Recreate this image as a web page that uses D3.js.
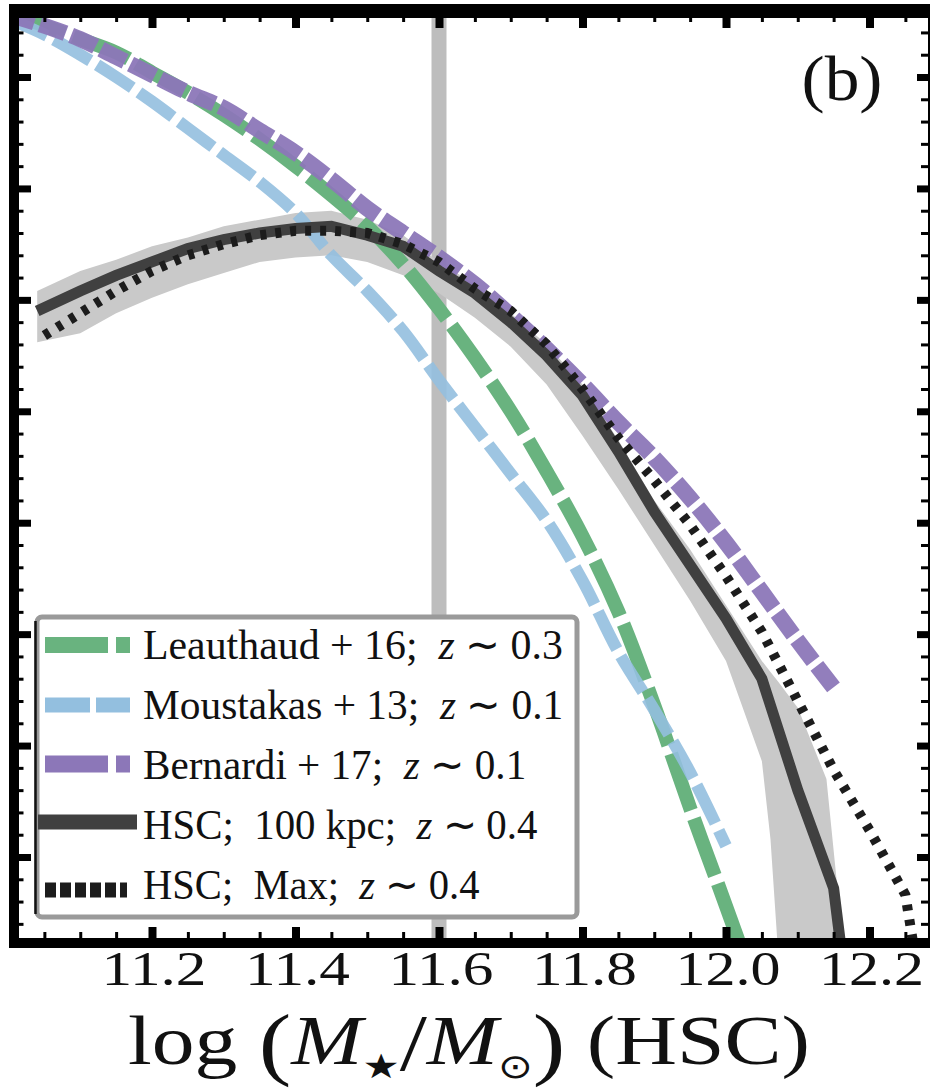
<!DOCTYPE html>
<html><head><meta charset="utf-8">
<script src="https://cdn.jsdelivr.net/npm/d3@7"></script>
<style>
html,body{margin:0;padding:0;background:#fff;}
svg{display:block;}
</style></head>
<body>
<svg id="chart" width="930" height="1089"></svg>
<script>
// ---------------- data ----------------
const leauthaudMass = [11.00,11.05,11.10,11.15,11.20,11.25,11.30,11.35,11.40,11.45,11.50,11.55,11.60,11.65,11.70,11.75,11.80,11.85,11.90,11.95,12.00,12.02];
const leauthaudPhi  = [-2.71,-2.77,-2.83,-2.89,-2.98,-3.07,-3.17,-3.28,-3.40,-3.53,-3.67,-3.84,-4.04,-4.26,-4.50,-4.77,-5.06,-5.40,-5.82,-6.28,-6.72,-6.90];

const moustakasMass = [11.00,11.05,11.10,11.15,11.20,11.25,11.30,11.35,11.40,11.45,11.50,11.55,11.60,11.65,11.70,11.75,11.80,11.85,11.90,11.95,12.00];
const moustakasPhi  = [-2.74,-2.81,-2.90,-3.00,-3.11,-3.23,-3.35,-3.47,-3.61,-3.80,-3.96,-4.14,-4.36,-4.57,-4.78,-4.99,-5.26,-5.58,-5.84,-6.12,-6.45];

const bernardiMass = [11.00,11.05,11.10,11.15,11.20,11.25,11.30,11.35,11.40,11.45,11.50,11.55,11.60,11.65,11.70,11.75,11.80,11.85,11.90,11.95,12.00,12.05,12.10,12.15];
const bernardiPhi  = [-2.72,-2.77,-2.83,-2.91,-2.99,-3.07,-3.14,-3.24,-3.34,-3.46,-3.59,-3.70,-3.81,-3.93,-4.07,-4.22,-4.38,-4.55,-4.71,-4.89,-5.09,-5.31,-5.53,-5.74];

const hsc100Mass = [11.04,11.10,11.15,11.20,11.25,11.30,11.35,11.40,11.45,11.50,11.55,11.60,11.65,11.70,11.75,11.80,11.85,11.90,11.95,12.00,12.05,12.10,12.15,12.16];
const hsc100Phi  = [-4.05,-3.96,-3.89,-3.83,-3.77,-3.73,-3.70,-3.68,-3.67,-3.71,-3.76,-3.87,-3.97,-4.10,-4.25,-4.43,-4.68,-4.95,-5.19,-5.43,-5.70,-6.20,-6.64,-6.90];

const hscMaxMass = [11.05,11.10,11.15,11.20,11.25,11.30,11.35,11.40,11.45,11.50,11.55,11.60,11.65,11.70,11.75,11.80,11.85,11.90,11.95,12.00,12.05,12.10,12.15,12.20,12.25,12.26];
const hscMaxPhi  = [-4.16,-4.06,-3.96,-3.87,-3.80,-3.75,-3.71,-3.69,-3.69,-3.70,-3.75,-3.83,-3.95,-4.05,-4.20,-4.40,-4.62,-4.81,-5.01,-5.24,-5.49,-5.80,-6.11,-6.38,-6.67,-6.87];

const bandMass = [11.04,11.10,11.15,11.20,11.25,11.30,11.35,11.40,11.45,11.50,11.55,11.60,11.65,11.70,11.75,11.80,11.85,11.90,11.95,12.00,12.05,12.062,12.072,12.10,12.14,12.165];
const bandHigh = [-3.96,-3.87,-3.82,-3.76,-3.72,-3.67,-3.64,-3.61,-3.60,-3.64,-3.71,-3.83,-3.93,-4.06,-4.20,-4.38,-4.63,-4.90,-5.12,-5.37,-5.62,-5.67,-5.71,-5.83,-6.15,-6.95];
const bandLow  = [-4.19,-4.15,-4.06,-3.99,-3.93,-3.88,-3.83,-3.81,-3.80,-3.83,-3.89,-3.97,-4.08,-4.21,-4.38,-4.61,-4.85,-5.10,-5.35,-5.62,-6.07,-6.42,-6.90,-7.50,-7.50,-7.50];

const cutMass = 11.6;

const xMajorTicks = [11.2,11.4,11.6,11.8,12.0,12.2];
const xTickLabels = ["11.2","11.4","11.6","11.8","12.0","12.2"];

const legendLabels = [
  ["Leauthaud + 16;\u2002", "z", " ∼ 0.3"],
  ["Moustakas + 13;\u2002", "z", " ∼ 0.1"],
  ["Bernardi + 17;\u2002", "z", " ∼ 0.1"],
  ["HSC;\u2002100 kpc;\u2002", "z", " ∼ 0.4"],
  ["HSC;\u2002Max;\u2002", "z", " ∼ 0.4"]
];
const panelLabel = "(b)";

// ---------------- layout ----------------
const SERIF = "Liberation Serif";
const svg = d3.select("#chart");
const P = {l:19, r:928, t:18, b:938};
const x = d3.scaleLinear().domain([11.0, 12.2]).range([8.5, 869.5]);
const y = d3.scaleLinear().domain([-6.5, -3.0]).range([857, 77]);

svg.append("defs").append("clipPath").attr("id","clip").append("rect")
  .attr("x",P.l).attr("y",P.t).attr("width",P.r-P.l).attr("height",P.b-P.t);

const g = svg.append("g").attr("clip-path","url(#clip)");

// vertical line
g.append("line").attr("x1",x(cutMass)).attr("x2",x(cutMass))
  .attr("y1",P.t).attr("y2",P.b).attr("stroke","#bdbdbd").attr("stroke-width",15);

// band
const area = d3.area().x(d=>x(d[0])).y0(d=>y(d[1])).y1(d=>y(d[2]));
g.append("path").datum(d3.zip(bandMass,bandLow,bandHigh)).attr("d",area).attr("fill","#c9c9c9");

const smooth = d3.line().x(d=>x(d[0])).y(d=>y(d[1])).curve(d3.curveCatmullRom);
const straight = d3.line().x(d=>x(d[0])).y(d=>y(d[1]));

function drawLine(gen, mass, phi, color, w, dash, op){
  g.append("path").datum(d3.zip(mass,phi)).attr("d",gen)
    .attr("fill","none").attr("stroke",color).attr("stroke-width",w)
    .attr("stroke-dasharray",dash).attr("stroke-linecap","butt")
    .attr("opacity",op||1);
}
drawLine(smooth, leauthaudMass, leauthaudPhi, "#69b37f", 14, "60,9");
drawLine(smooth, moustakasMass, moustakasPhi, "#93bfdf", 12, "42,8", 0.9);
drawLine(smooth, bernardiMass, bernardiPhi, "#8c77b8", 16, "27,6", 0.95);
drawLine(straight, hsc100Mass, hsc100Phi, "#404040", 11, null);
drawLine(straight, hscMaxMass, hscMaxPhi, "#1c1c1c", 10, "6,9");

// ---------------- ticks ----------------
const xMinor = d3.range(221,246).filter(i=>i%4!==0).map(i=>i/20);
const yMajor = d3.range(-65,-29,5).map(i=>i/10);
const yMinor = d3.range(-68,-27).filter(i=>i%5!==0).map(i=>i/10);

function ticks(axis, tr, w){
  const a = svg.append("g").attr("transform",tr).call(axis);
  a.select(".domain").remove();
  a.selectAll(".tick line").attr("stroke","#000").attr("stroke-width",w);
  a.selectAll(".tick text").remove();
}
ticks(d3.axisBottom(x).tickValues(xMajorTicks).tickSize(-11).tickFormat(""), `translate(0,${P.b})`, 8);
ticks(d3.axisBottom(x).tickValues(xMinor).tickSize(-6).tickFormat(""), `translate(0,${P.b})`, 3);
ticks(d3.axisTop(x).tickValues(xMajorTicks).tickSize(-10).tickFormat(""), `translate(0,${P.t})`, 8);
ticks(d3.axisTop(x).tickValues(xMinor).tickSize(-4).tickFormat(""), `translate(0,${P.t})`, 3);
ticks(d3.axisLeft(y).tickValues(yMajor).tickSize(-12).tickFormat(""), `translate(${P.l},0)`, 7);
ticks(d3.axisLeft(y).tickValues(yMinor).tickSize(-4.5).tickFormat(""), `translate(${P.l},0)`, 3);
ticks(d3.axisRight(y).tickValues(yMajor).tickSize(-11).tickFormat(""), `translate(${P.r},0)`, 7);
ticks(d3.axisRight(y).tickValues(yMinor).tickSize(-7).tickFormat(""), `translate(${P.r},0)`, 3);

// frame
svg.append("rect").attr("x",9).attr("y",4).attr("width",10).attr("height",944).attr("fill","#000");
svg.append("rect").attr("x",9).attr("y",4).attr("width",935).attr("height",14).attr("fill","#000");
svg.append("rect").attr("x",9).attr("y",938).attr("width",935).attr("height",10).attr("fill","#000");
svg.append("rect").attr("x",928).attr("y",4).attr("width",12).attr("height",944).attr("fill","#000");

// fit text width helper
function fit(gs, cx, cy, target){
  const w = gs.node().getBBox().width;
  gs.attr("transform", `translate(${cx},${cy}) scale(${target/w},1)`);
}
function mkText(parent, size, anchor){
  return parent.append("text").attr("font-family", SERIF).attr("font-size", size)
    .attr("text-anchor", anchor).attr("fill", "#111");
}

// tick labels
xMajorTicks.forEach((v,i)=>{
  const t = svg.append("g");
  mkText(t, 48, "middle").text(xTickLabels[i]);
  fit(t, x(v)+2, 985, 105);
});

// axis title
{
  const t = svg.append("g");
  const tx = mkText(t, 70, "middle");
  tx.append("tspan").text("log ");
  tx.append("tspan").attr("font-size",80).attr("dy",6).text("(");
  tx.append("tspan").attr("font-style","italic").attr("dy",-6).text("M");
  tx.append("tspan").attr("font-size",34).attr("font-family","DejaVu Sans").attr("dy",14).text("★");
  tx.append("tspan").attr("font-size",80).attr("dy",-8).text("/");
  tx.append("tspan").attr("font-style","italic").attr("dy",-6).text("M");
  tx.append("tspan").attr("font-size",34).attr("font-family","DejaVu Sans").attr("dy",14).text("⊙");
  tx.append("tspan").attr("font-size",80).attr("dy",-8).text(")");
  tx.append("tspan").attr("dy",-6).text(" (HSC)");
  fit(t, 469, 1064, 682);
}

// panel label
{
  const t = svg.append("g");
  mkText(t, 64, "middle").text(panelLabel);
  fit(t, 842, 100, 81);
}

// ---------------- legend ----------------
const lg = svg.append("g");
lg.append("rect").attr("x",37).attr("y",617).attr("width",540).attr("height",300).attr("rx",5)
  .attr("fill","#fff").attr("stroke","#9a9a9a").attr("stroke-width",5);
lg.append("line").attr("x1",35.5).attr("x2",35.5).attr("y1",621).attr("y2",914).attr("stroke","#111").attr("stroke-width",2.5);

const handleY = [645, 705, 764, 822, 890];
const textY = [659, 719, 779, 839, 899];
const textW = [420, 420, 383, 395, 337];
const handles = [
  {x1:45,x2:130,c:"#69b37f",w:16,d:"63,8,14,100"},
  {x1:45,x2:130,c:"#93bfdf",w:15,d:"45,6,34,100"},
  {x1:45,x2:130,c:"#8c77b8",w:17,d:"63,8,14,100"},
  {x1:38,x2:137,c:"#404040",w:15,d:null},
  {x1:45,x2:127,c:"#1c1c1c",w:15,d:"11,4"}
];
handles.forEach((h,i)=>{
  lg.append("line").attr("x1",h.x1).attr("x2",h.x2).attr("y1",handleY[i]).attr("y2",handleY[i])
    .attr("stroke",h.c).attr("stroke-width",h.w).attr("stroke-dasharray",h.d);
  const t = lg.append("g");
  const tx = mkText(t, 42, "start");
  tx.append("tspan").text(legendLabels[i][0]);
  tx.append("tspan").attr("font-style","italic").text(legendLabels[i][1]);
  tx.append("tspan").text(legendLabels[i][2]);
  fit(t, 143, textY[i], textW[i]);
});
</script>
</body></html>
